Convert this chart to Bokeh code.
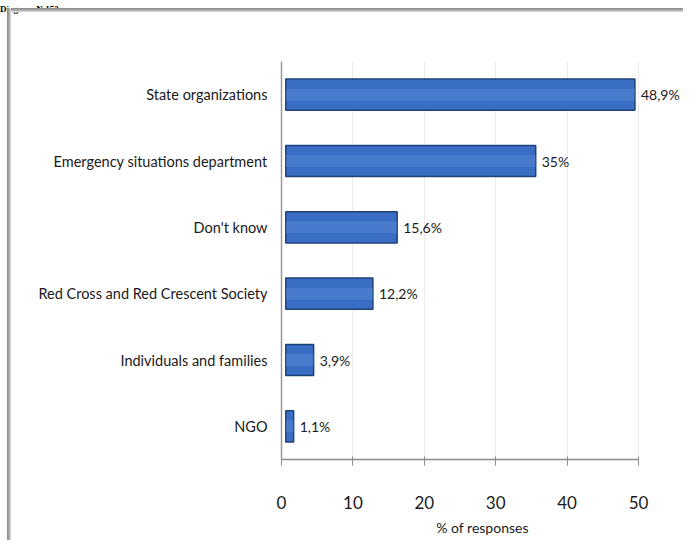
from bokeh.plotting import figure
from bokeh.models import ColumnDataSource, FactorRange, Range1d, Div
from bokeh.layouts import column
from bokeh.embed import file_html
from bokeh.resources import INLINE
from bokeh.core.properties import value

# ---- data ----
title_text = "Diagram №153"
categories = ["State organizations", "Emergency situations department", "Don't know",
              "Red Cross and Red Crescent Society", "Individuals and families", "NGO"]
values = [48.9, 35.0, 15.6, 12.2, 3.9, 1.1]
value_labels = ["48,9%", "35%", "15,6%", "12,2%", "3,9%", "1,1%"]
x_ticks = [0, 10, 20, 30, 40, 50]
x_label = "% of responses"

# ---- style ----
FONT = "Lato"
DEPTH = 0.6  # 3-D depth offset of the bar fronts (style)
W = 683
TITLE_H = 8
H = 540 - TITLE_H
B_LEFT, B_TOP, B_BOTTOM = 281, 53, 81

factors = list(reversed(categories))
src = ColumnDataSource(dict(
    cat=categories, val=values, lab=value_labels,
    left=[DEPTH] * len(values), right=[v + DEPTH for v in values],
))

p = figure(width=W, height=H,
           y_range=FactorRange(*factors), x_range=Range1d(0, 56.3),
           output_backend="svg", toolbar_location=None,
           min_border_left=B_LEFT, min_border_right=0,
           min_border_top=B_TOP, min_border_bottom=B_BOTTOM)
p.border_fill_color = None
p.background_fill_color = None
p.outline_line_color = None
p.styles = {
    "background": (
        "linear-gradient(to right, #8c8c8c, #9c9c9c 40%, #e2e2e2) 7px 0px / 4px 100% no-repeat, "
        "linear-gradient(to bottom, #8c8c8c, #9c9c9c 40%, #e2e2e2) 7px 0px / calc(100% - 7px) 4px no-repeat"),
}

# bars
p.hbar(y="cat", left="left", right="right", height=0.47, source=src,
       fill_color="#3a6dc4", line_color="#1f4279", line_width=1.5)
p.hbar(y="cat", left="left", right="right", height=0.18, source=src,
       fill_color="#6d9ae0", fill_alpha=0.3, line_color=None)

# value labels
p.text(x="right", y="cat", text="lab", source=src, x_offset=6,
       text_baseline="middle", text_align="left",
       text_font=value(FONT), text_font_size="14px", text_color="#1a1a1a")

# axes
xa = p.xaxis[0]
xa.ticker = x_ticks
xa.bounds = (0, 50)
xa.axis_line_color = "#8c8c8c"
xa.axis_line_width = 1.5
xa.major_tick_line_color = "#8c8c8c"
xa.major_tick_out = 6
xa.major_tick_in = 3
xa.minor_tick_line_color = None
xa.major_label_standoff = 30
xa.major_label_text_font = FONT
xa.major_label_text_font_size = "17px"
xa.major_label_text_color = "#1a1a1a"
xa.axis_label = x_label
xa.axis_label_standoff = 7
xa.axis_label_text_font = FONT
xa.axis_label_text_font_size = "14px"
xa.axis_label_text_font_style = "normal"
xa.axis_label_text_color = "#1a1a1a"

ya = p.yaxis[0]
ya.axis_line_color = "#9a9a9a"
ya.axis_line_width = 1.5
ya.major_tick_line_color = None
ya.major_tick_out = 0
ya.major_tick_in = 0
ya.minor_tick_line_color = None
ya.major_label_standoff = 14
ya.major_label_text_font = FONT
ya.major_label_text_font_size = "14.5px"
ya.major_label_text_color = "#1a1a1a"

p.xgrid.grid_line_color = "#ebebeb"
p.ygrid.grid_line_color = None

title = Div(
    text=('<span style="font-family:\'Liberation Serif\'; font-weight:bold; font-size:9px; '
          'line-height:8px; white-space:nowrap; color:#000;">' + title_text + '</span>'),
    width=W, height=TITLE_H, margin=0)

layout = column(title, p, spacing=0)
open("out.html", "w").write(file_html(layout, INLINE))
